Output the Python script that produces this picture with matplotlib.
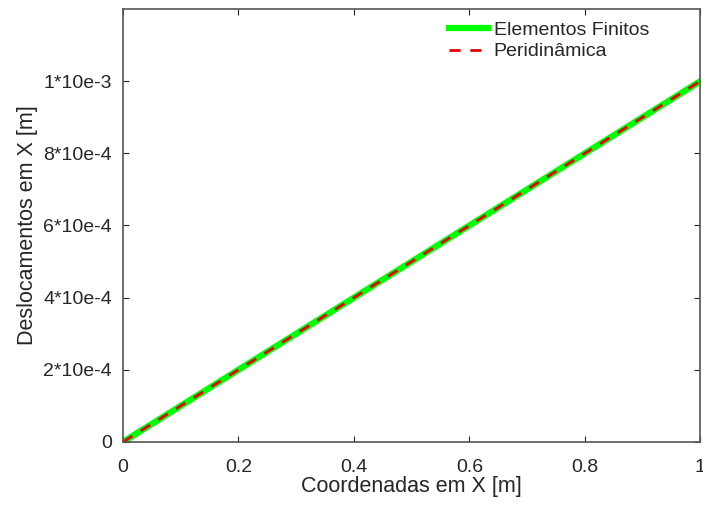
import matplotlib.pyplot as plt

# Dados
x_fem = [0.0, 0.1, 0.2, 0.3, 0.4, 0.5, 0.6, 0.7, 0.8, 0.9, 1.0]
u_fem = [0.0, 1e-4, 2e-4, 3e-4, 4e-4, 5e-4, 6e-4, 7e-4, 8e-4, 9e-4, 1e-3]
x_pd = [0.0, 0.1, 0.2, 0.3, 0.4, 0.5, 0.6, 0.7, 0.8, 0.9, 1.0]
u_pd = [0.0, 1e-4, 2e-4, 3e-4, 4e-4, 5e-4, 6e-4, 7e-4, 8e-4, 9e-4, 1e-3]

xticks = [0, 0.2, 0.4, 0.6, 0.8, 1]
xtick_labels = ['0', '0.2', '0.4', '0.6', '0.8', '1']
yticks = [0, 2e-4, 4e-4, 6e-4, 8e-4, 1e-3]
ytick_labels = ['0', '2*10e-4', '4*10e-4', '6*10e-4', '8*10e-4', '1*10e-3']

plt.rcParams['font.family'] = ['Liberation Sans', 'DejaVu Sans']

fig = plt.figure(figsize=(7.03, 5.05), dpi=100)
ax = fig.add_axes([0.175, 0.125, 0.821, 0.857])

ax.plot(x_fem, u_fem, color='#00ff00', linewidth=4.5, label='Elementos Finitos')
ax.plot(x_pd, u_pd, color='#e60000', linewidth=2, linestyle=(0, (4, 3.5)), label='Peridinâmica')

ax.set_xlim(0, 1)
ax.set_ylim(0, 1.2e-3)
ax.set_xticks(xticks)
ax.set_xticklabels(xtick_labels)
ax.set_yticks(yticks)
ax.set_yticklabels(ytick_labels)

ax.tick_params(direction='in', top=True, right=True, labelsize=14, colors='#262626',
               length=4, width=0.8)
ax.tick_params(axis='x', pad=12)
ax.tick_params(axis='y', pad=8)
for s in ax.spines.values():
    s.set_color('#555555')
    s.set_linewidth(1.2)

ax.set_xlabel('Coordenadas em X [m]', fontsize=15.5, color='#262626', labelpad=0)
ax.set_ylabel('Deslocamentos em X [m]', fontsize=15.5, color='#262626', labelpad=4)

leg = ax.legend(loc='upper right', bbox_to_anchor=(0.925, 0.99), frameon=False,
                fontsize=14, handlelength=2, borderaxespad=0, labelspacing=0.2,
                handletextpad=0.3)
for t in leg.get_texts():
    t.set_color('#262626')

fig.savefig('out.png', dpi=100)
